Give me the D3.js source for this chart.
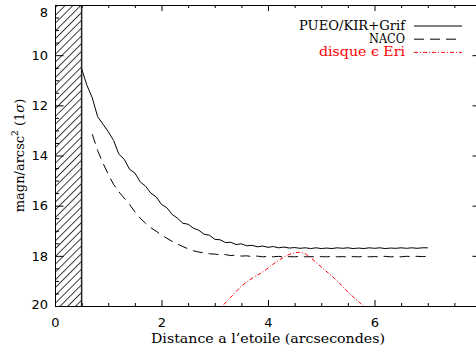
<!DOCTYPE html>
<html>
<head>
<meta charset="utf-8">
<script src="https://cdn.jsdelivr.net/npm/d3@7"></script>
<style>
  html, body { margin: 0; padding: 0; background: #fff; overflow: hidden; }
  svg { display: block; }
</style>
</head>
<body>
<svg id="chart" width="476" height="354"></svg>
<script>
// PUEO/KIR+Grif (solid)
const pueoX = [0.5, 0.6, 0.7, 0.8, 0.9, 1.0, 1.1, 1.2, 1.3, 1.4, 1.5, 1.6, 1.7, 1.8, 1.9, 2.0, 2.1, 2.2, 2.3, 2.4,
  2.5, 2.6, 2.7, 2.8, 2.9, 3.0, 3.1, 3.2, 3.3, 3.4, 3.5, 3.6, 3.7, 3.8, 3.9, 4.0, 4.1, 4.2, 4.3, 4.4,
  4.5, 4.6, 4.7, 4.8, 4.9, 5.0, 5.1, 5.2, 5.3, 5.4, 5.5, 5.6, 5.7, 5.8, 5.9, 6.0, 6.1, 6.2, 6.3, 6.4,
  6.5, 6.6, 6.7, 6.8, 6.9, 7.0];
const pueoY = [10.55, 11.2, 11.7, 12.45, 12.75, 13.05, 13.4, 13.95, 14.15, 14.55, 14.7, 15.05, 15.22, 15.5, 15.65, 15.95, 16.08, 16.35, 16.5, 16.7,
  16.74, 16.9, 16.98, 17.14, 17.18, 17.34, 17.36, 17.47, 17.46, 17.55, 17.52, 17.6, 17.58, 17.64, 17.61, 17.66, 17.63, 17.68, 17.65, 17.69,
  17.67, 17.7, 17.68, 17.71, 17.68, 17.71, 17.69, 17.71, 17.68, 17.7, 17.68, 17.71, 17.69, 17.71, 17.68, 17.7, 17.68, 17.71, 17.69, 17.7,
  17.68, 17.7, 17.68, 17.7, 17.68, 17.68];

// NACO (dashed)
const nacoX = [0.7, 0.8, 0.9, 1.0, 1.1, 1.2, 1.3, 1.4, 1.5, 1.6, 1.7, 1.8, 1.9, 2.0, 2.1, 2.2, 2.3, 2.4,
  2.5, 2.6, 2.7, 2.8, 2.9, 3.0, 3.1, 3.2, 3.3, 3.4, 3.5, 3.6, 3.7, 3.8, 3.9, 4.0, 4.1, 4.2, 4.3, 4.4,
  4.5, 4.6, 4.7, 4.8, 4.9, 5.0, 5.1, 5.2, 5.3, 5.4, 5.5, 5.6, 5.7, 5.8, 5.9, 6.0, 6.1, 6.2, 6.3, 6.4,
  6.5, 6.6, 6.7, 6.8, 6.9, 7.0];
const nacoY = [13.15, 13.8, 14.3, 14.75, 15.15, 15.45, 15.7, 15.95, 16.25, 16.5, 16.7, 16.88, 17.02, 17.17, 17.3, 17.42, 17.53, 17.63,
  17.72, 17.8, 17.85, 17.88, 17.92, 17.93, 17.96, 17.95, 17.99, 17.97, 18.01, 18.0, 18.03, 18.01, 18.04, 18.02, 18.04, 18.02, 18.05, 18.03,
  18.04, 18.02, 18.04, 18.03, 18.05, 18.03, 18.04, 18.02, 18.04, 18.03, 18.05, 18.03, 18.04, 18.02, 18.04, 18.03, 18.04, 18.02, 18.04, 18.03,
  18.04, 18.02, 18.03, 18.02, 18.03, 18.02];

// disque eps Eri (red dash-dot)
const discX = [3.05, 3.13, 3.3, 3.53, 3.7, 3.91, 4.16, 4.37, 4.5, 4.59, 4.7, 4.78, 5.03, 5.28, 5.53, 5.79, 5.85];
const discY = [20.2, 20.03, 19.65, 19.16, 18.9, 18.63, 18.24, 17.97, 17.88, 17.86, 17.92, 18.04, 18.5, 18.96, 19.5, 19.99, 20.1];

const xTicks = [0, 2, 4, 6, 8];
const xLabels = [0, 2, 4, 6];
const yTicks = [8, 10, 12, 14, 16, 18, 20];
const coroRadius = 0.5;

const legendItems = [
  { label: 'PUEO/KIR+Grif', color: '#000', dash: null },
  { label: 'NACO', color: '#000', dash: '10,6' },
  { label: 'disque \u03f5 Eri', color: '#ff0000', dash: '4,2,1,2' }
];

const svg = d3.select('#chart');
const mLeft = 55, mTop = 5, mRight = 481, mBottom = 306;

const x = d3.scaleLinear().domain([0, 8]).range([mLeft, mRight]);
const y = d3.scaleLinear().domain([8, 20]).range([mTop, mBottom]);

const defs = svg.append('defs');
defs.append('clipPath').attr('id', 'plot-clip')
  .append('rect')
  .attr('x', mLeft).attr('y', mTop)
  .attr('width', mRight - mLeft).attr('height', mBottom - mTop);
const hatch = defs.append('pattern')
  .attr('id', 'hatch')
  .attr('patternUnits', 'userSpaceOnUse')
  .attr('width', 5.5).attr('height', 10)
  .attr('patternTransform', 'rotate(45)');
hatch.append('line')
  .attr('x1', 0.5).attr('y1', 0).attr('x2', 0.5).attr('y2', 10)
  .attr('stroke', '#111').attr('stroke-width', 0.85);

// hatched coronagraph zone
svg.append('rect')
  .attr('x', x(0)).attr('y', mTop)
  .attr('width', x(coroRadius) - x(0)).attr('height', mBottom - mTop)
  .attr('fill', 'url(#hatch)');
svg.append('line')
  .attr('x1', x(coroRadius)).attr('x2', x(coroRadius))
  .attr('y1', mTop).attr('y2', mBottom)
  .attr('stroke', '#222').attr('stroke-width', 1.5);

// axes (IDL style box, ticks inward)
svg.append('g').attr('transform', `translate(0,${mBottom})`)
  .call(d3.axisBottom(x).tickValues(xTicks).tickSize(-6)
    .tickFormat(d => xLabels.includes(d) ? d3.format('d')(d) : '').tickPadding(12));
svg.append('g').attr('transform', `translate(0,${mTop})`)
  .call(d3.axisTop(x).tickValues(xTicks).tickSize(-6).tickFormat(''));
const leftAxis = svg.append('g').attr('transform', `translate(${mLeft},0)`)
  .call(d3.axisLeft(y).tickValues(yTicks).tickSize(-8.5).tickFormat(d3.format('d')).tickPadding(12));
svg.append('g').attr('transform', `translate(${mRight},0)`)
  .call(d3.axisRight(y).tickValues(yTicks).tickSize(-8.5).tickFormat(''));

const xMinor = d3.range(0, 8.01, 0.5).filter(v => v % 2 !== 0);
const yMinor = d3.range(8, 20.01, 0.5).filter(v => v % 2 !== 0);
svg.append('g').attr('transform', `translate(0,${mBottom})`)
  .call(d3.axisBottom(x).tickValues(xMinor).tickSize(-3).tickFormat(''));
svg.append('g').attr('transform', `translate(0,${mTop})`)
  .call(d3.axisTop(x).tickValues(xMinor).tickSize(-3).tickFormat(''));
svg.append('g').attr('transform', `translate(${mLeft},0)`)
  .call(d3.axisLeft(y).tickValues(yMinor).tickSize(-4).tickFormat(''));
svg.append('g').attr('transform', `translate(${mRight},0)`)
  .call(d3.axisRight(y).tickValues(yMinor).tickSize(-4).tickFormat(''));

svg.selectAll('.domain').attr('stroke', '#000').attr('stroke-width', 1);
svg.selectAll('.tick line').attr('stroke', '#000');
svg.selectAll('.tick text')
  .attr('font-family', 'DejaVu Sans, sans-serif')
  .attr('font-size', 13)
  .attr('fill', '#000');
leftAxis.selectAll('.tick text').attr('dx', 5)
  .attr('dy', d => d === 8 ? '0.9em' : (d === 20 ? '0.2em' : '0.32em'));

// curves
const line = d3.line().x(d => x(d[0])).y(d => y(d[1]));
const plot = svg.append('g').attr('clip-path', 'url(#plot-clip)');

plot.append('path')
  .datum(d3.zip(pueoX, pueoY))
  .attr('d', line)
  .attr('fill', 'none').attr('stroke', '#000').attr('stroke-width', 1);

plot.append('path')
  .datum(d3.zip(nacoX, nacoY))
  .attr('d', line)
  .attr('fill', 'none').attr('stroke', '#000').attr('stroke-width', 1)
  .attr('stroke-dasharray', '10,6');

plot.append('path')
  .datum(d3.zip(discX, discY))
  .attr('d', line.curve(d3.curveMonotoneX))
  .attr('fill', 'none').attr('stroke', '#ff0000').attr('stroke-width', 1)
  .attr('stroke-dasharray', '4,2,1,2');

// legend
const legendWidths = [106, 36, 86];
const legend = svg.append('g');
legendItems.forEach((item, i) => {
  const ly = 26 + i * 13.2;
  legend.append('text')
    .attr('x', 405).attr('y', ly + 4)
    .attr('text-anchor', 'end')
    .attr('font-family', 'DejaVu Serif, serif')
    .attr('font-size', 12)
    .attr('fill', item.color)
    .attr('textLength', legendWidths[i])
    .attr('lengthAdjust', 'spacingAndGlyphs')
    .text(item.label);
  legend.append('line')
    .attr('x1', 414).attr('x2', 462)
    .attr('y1', ly).attr('y2', ly)
    .attr('stroke', item.color).attr('stroke-width', 1)
    .attr('stroke-dasharray', item.dash);
});

// axis titles
svg.append('text')
  .attr('x', 268).attr('y', 343)
  .attr('text-anchor', 'middle')
  .attr('font-family', 'DejaVu Serif, serif')
  .attr('font-size', 13)
  .attr('textLength', 234)
  .attr('lengthAdjust', 'spacingAndGlyphs')
  .text('Distance a l\u2019etoile (arcsecondes)');

const yTitle = svg.append('text')
  .attr('transform', `translate(24,${(mTop + mBottom) / 2}) rotate(-90)`)
  .attr('text-anchor', 'middle')
  .attr('font-family', 'DejaVu Serif, serif')
  .attr('font-size', 13);
yTitle.append('tspan').text('magn/arcsc');
yTitle.append('tspan').attr('dy', -6).attr('font-size', 9).text('2');
yTitle.append('tspan').attr('dy', 6).text(' (1');
yTitle.append('tspan').attr('font-style', 'italic').text('\u03c3');
yTitle.append('tspan').text(')');
</script>
</body>
</html>
